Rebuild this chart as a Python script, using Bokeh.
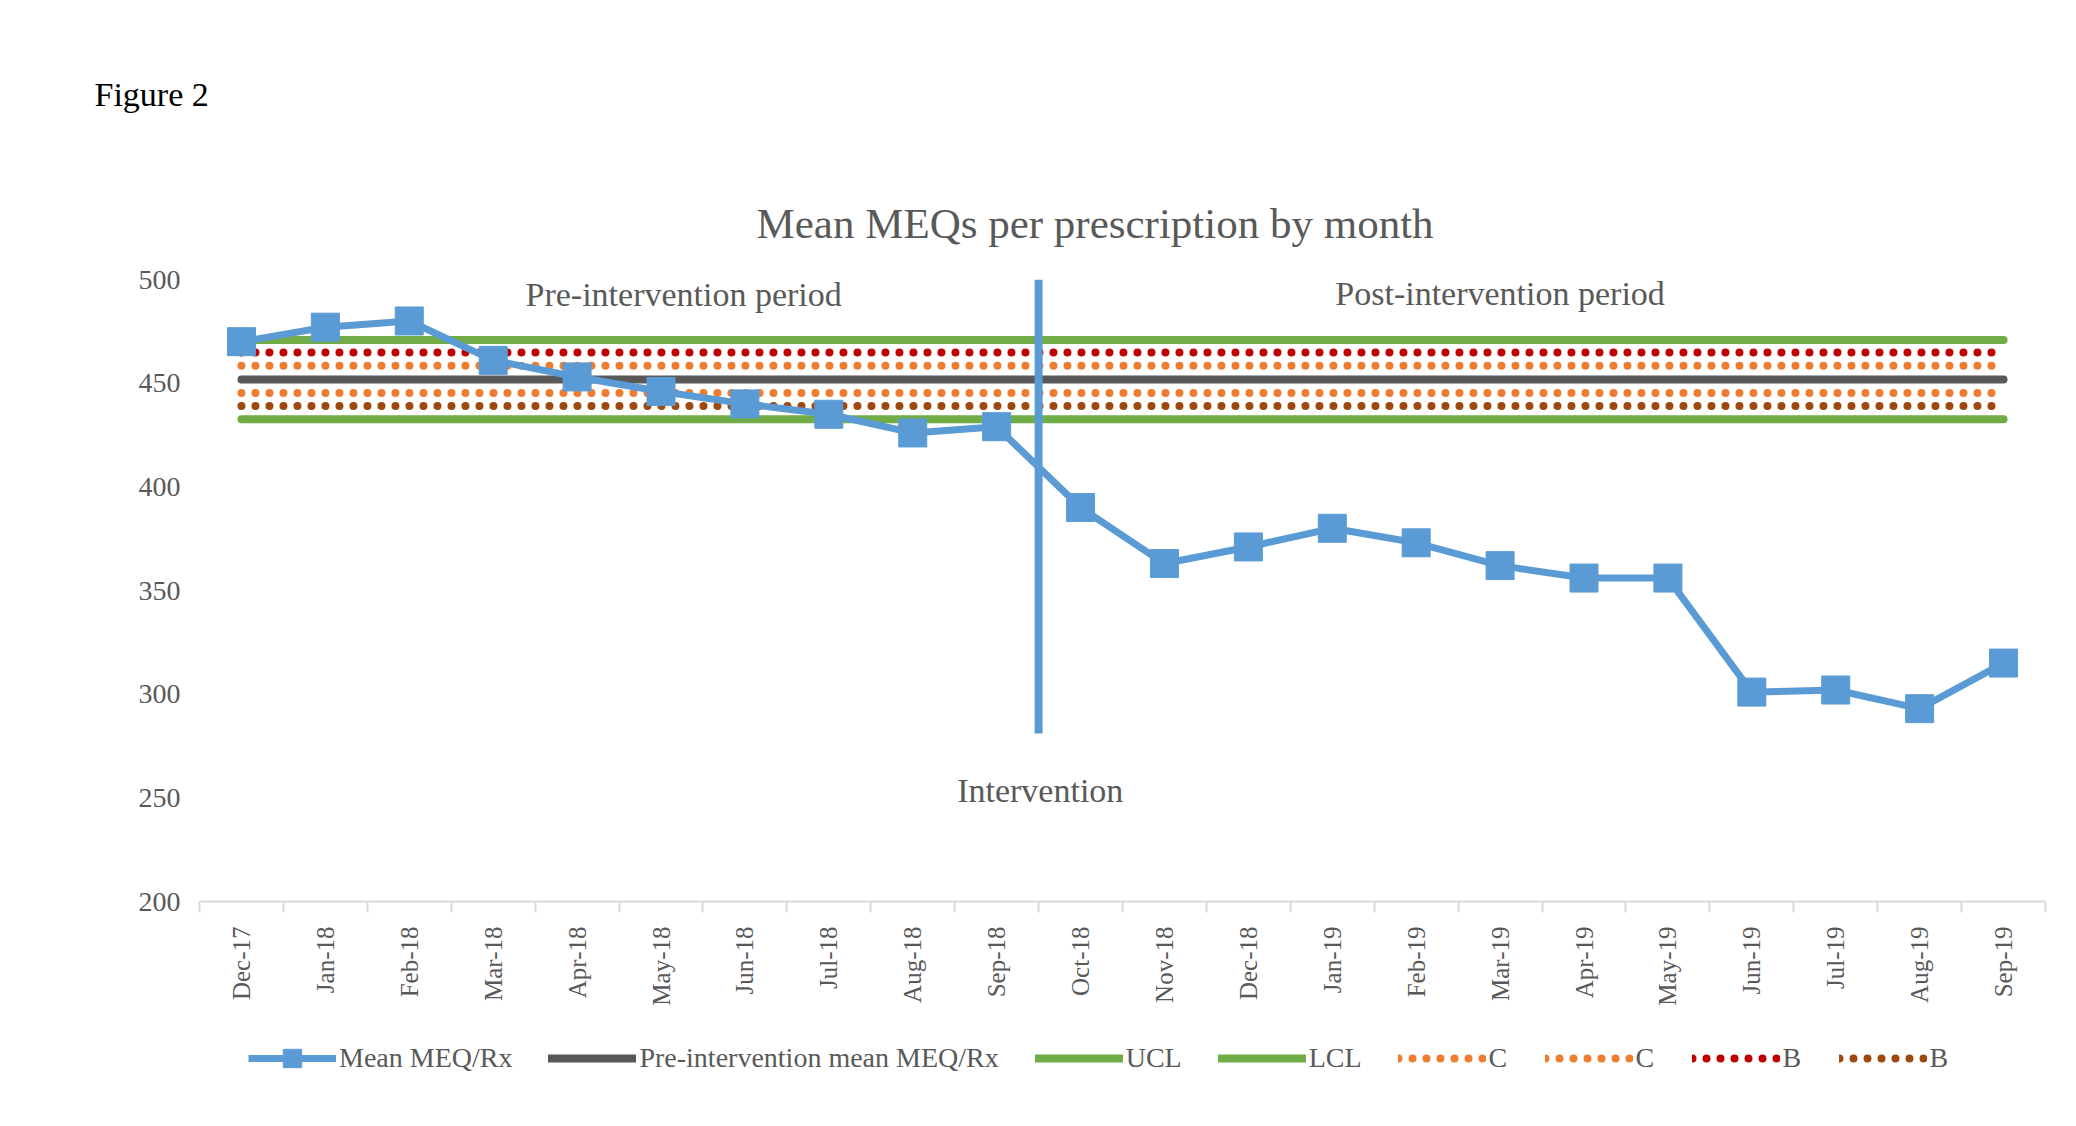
import math
from bokeh.plotting import figure
from bokeh.layouts import column
from bokeh.models import Range1d, FixedTicker, Label, Legend, LegendItem, Title
from bokeh.embed import file_html
from bokeh.resources import INLINE

# ---------------- data ----------------
months = ["Dec-17", "Jan-18", "Feb-18", "Mar-18", "Apr-18", "May-18", "Jun-18",
          "Jul-18", "Aug-18", "Sep-18", "Oct-18", "Nov-18", "Dec-18", "Jan-19",
          "Feb-19", "Mar-19", "Apr-19", "May-19", "Jun-19", "Jul-19", "Aug-19", "Sep-19"]
mean_meq_rx = [470, 477, 480, 461, 453, 446, 440, 435, 426, 429,
               390, 363, 371, 380, 373, 362, 356, 356, 301, 302, 293, 315]
pre_mean = 451.8
ucl = 470.8
lcl = 432.6
c_upper = 458.4
c_lower = 445.3
b_upper = 464.8
b_lower = 439.0
y_ticks = [200, 250, 300, 350, 400, 450, 500]
intervention_pos = 9.5          # between Sep-18 and Oct-18
intervention_low = 281
intervention_high = 500
legend_labels = ["Mean MEQ/Rx", "Pre-intervention mean MEQ/Rx", "UCL", "LCL", "C", "C", "B", "B"]

FONT = "Liberation Serif"
GREY = "#595959"
BLUE = "#5B9BD5"
GREEN = "#70AD47"
ORANGE = "#ED7D31"
RED = "#C00000"
BROWN = "#9E480E"

xs = list(range(len(months)))
n = len(months)

p = figure(frame_width=1846, frame_height=622, x_range=Range1d(-0.5, n - 0.5),
           y_range=Range1d(200, 500), output_backend="svg", toolbar_location=None,
           min_border_left=199, min_border_right=15, min_border_top=279,
           min_border_bottom=125)
p.outline_line_color = None
p.xgrid.grid_line_color = None
p.ygrid.grid_line_color = None
p.background_fill_color = "white"
p.border_fill_color = "white"

# outer title: "Figure 2"
p.title.text = "Figure 2"
p.title.align = "left"
p.title.offset = -105
p.title.text_font = FONT
p.title.text_font_size = "34px"
p.title.text_font_style = "normal"
p.title.text_color = "black"
p.title.standoff = 104

# chart title (closest to the plot area)
chart_title = Title(text="Mean MEQs per prescription by month", align="left", offset=557,
                    text_font=FONT, text_font_size="43px", text_font_style="normal",
                    text_color=GREY, standoff=66)
p.add_layout(chart_title, "above")

# y axis
p.yaxis.ticker = FixedTicker(ticks=y_ticks)
p.yaxis.axis_line_color = None
p.yaxis.major_tick_line_color = None
p.yaxis.minor_tick_line_color = None
p.yaxis.major_label_text_font = FONT
p.yaxis.major_label_text_font_size = "28px"
p.yaxis.major_label_text_color = GREY
p.yaxis.major_label_standoff = 13

# x axis
p.xaxis.ticker = FixedTicker(ticks=xs, minor_ticks=[i - 0.5 for i in range(n + 1)])
p.xaxis.major_label_overrides = {i: m for i, m in enumerate(months)}
p.xaxis.major_tick_line_color = None
p.xaxis.major_tick_out = 0
p.xaxis.major_tick_in = 0
p.xaxis.minor_tick_line_color = "#D9D9D9"
p.xaxis.minor_tick_line_width = 2
p.xaxis.minor_tick_out = 11
p.xaxis.minor_tick_in = 0
p.xaxis.axis_line_color = "#D9D9D9"
p.xaxis.axis_line_width = 2
p.xaxis.major_label_orientation = math.pi / 2
p.xaxis.major_label_text_font = FONT
p.xaxis.major_label_text_font_size = "25px"
p.xaxis.major_label_text_color = GREY
p.xaxis.major_label_standoff = 14

STYLES = {
    "ucl": dict(line_color=GREEN, line_width=8, line_cap="round"),
    "lcl": dict(line_color=GREEN, line_width=8, line_cap="round"),
    "mean": dict(line_color=GREY, line_width=8, line_cap="round"),
    "c": dict(line_color=ORANGE, line_width=8, line_dash="0 14", line_cap="round"),
    "b_up": dict(line_color=RED, line_width=8, line_dash="0 14", line_cap="round"),
    "b_lo": dict(line_color=BROWN, line_width=8, line_dash="0 14", line_cap="round"),
    "series": dict(line_color=BLUE, line_width=7),
    "marker": dict(marker="square", size=28, fill_color=BLUE, line_color=BLUE),
}

series_defs = [
    ("ucl", [ucl] * n), ("lcl", [lcl] * n), ("b_up", [b_upper] * n),
    ("c", [c_upper] * n), ("mean", [pre_mean] * n), ("c", [c_lower] * n),
    ("b_lo", [b_lower] * n),
]

# control lines
for style, vals in series_defs:
    p.line(xs, vals, **STYLES[style])

# intervention line
p.segment(x0=[intervention_pos], y0=[intervention_low], x1=[intervention_pos],
          y1=[intervention_high], line_color=BLUE, line_width=8)

# main series
p.line(xs, mean_meq_rx, **STYLES["series"])
p.scatter(xs, mean_meq_rx, **STYLES["marker"])

# texts inside the plot area
def lab(x, y, text, size):
    p.add_layout(Label(x=x, y=y, text=text, text_font=FONT, text_font_size=size,
                       text_color=GREY, text_align="center", text_baseline="middle"))

lab(5.27, 493.0, "Pre-intervention period", "34px")
lab(15.0, 493.4, "Post-intervention period", "34px")
lab(9.52, 253.4, "Intervention", "34px")

# ---------------- legend strip (separate small figure) ----------------
# The same series are drawn again here; the strip's ranges keep them out of view,
# so only their legend entries show.
q = figure(frame_width=2060, frame_height=80, x_range=Range1d(0, 1), y_range=Range1d(0, 1),
           output_backend="svg", toolbar_location=None, min_border=0)
q.axis.visible = False
q.grid.visible = False
q.outline_line_color = None
q.background_fill_color = "white"
q.border_fill_color = "white"

lg_line = q.line(xs, mean_meq_rx, **STYLES["series"])
lg_mark = q.scatter(xs, mean_meq_rx, **STYLES["marker"])
lg_mean = q.line(xs, [pre_mean] * n, **STYLES["mean"])
lg_ucl = q.line(xs, [ucl] * n, **STYLES["ucl"])
lg_lcl = q.line(xs, [lcl] * n, **STYLES["lcl"])
lg_c1 = q.line(xs, [c_upper] * n, **STYLES["c"])
lg_c2 = q.line(xs, [c_lower] * n, **STYLES["c"])
lg_b1 = q.line(xs, [b_upper] * n, **STYLES["b_up"])
lg_b2 = q.line(xs, [b_lower] * n, **STYLES["b_lo"])
renderer_sets = [[lg_line, lg_mark], [lg_mean], [lg_ucl], [lg_lcl],
                 [lg_c1], [lg_c2], [lg_b1], [lg_b2]]
items = [LegendItem(label=l, renderers=r) for l, r in zip(legend_labels, renderer_sets)]
legend = Legend(items=items, orientation="horizontal", location=(248, 25),
                glyph_width=88, glyph_height=46, label_standoff=3, spacing=36,
                padding=0, margin=0, border_line_color=None,
                background_fill_alpha=0, label_text_font=FONT,
                label_text_font_size="28px", label_text_color=GREY,
                label_height=46)
q.add_layout(legend)

page = column(p, q, spacing=0)
open("out.html", "w").write(file_html(page, INLINE))
